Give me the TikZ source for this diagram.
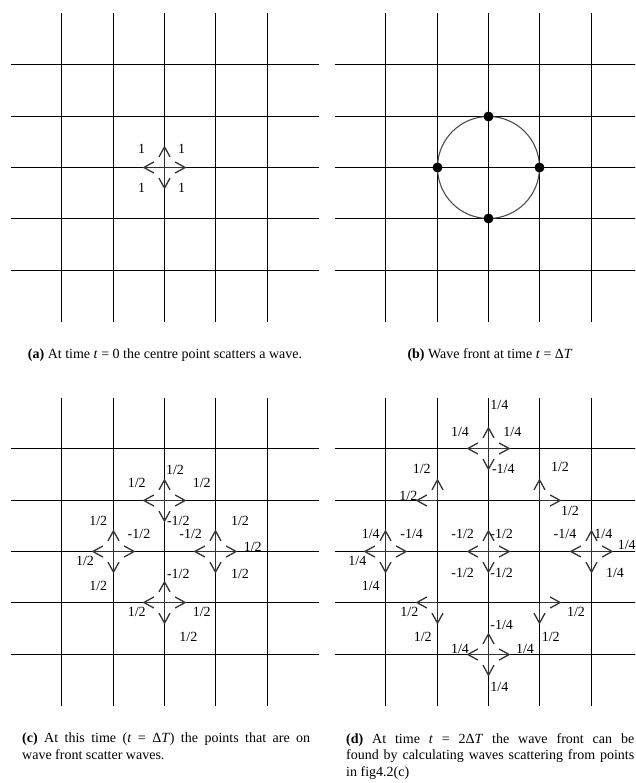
\documentclass[tikz,border=0pt]{standalone}
\usepackage{fontspec}
\setmainfont{Liberation Serif}
\usetikzlibrary{arrows.meta}

% lattice of 5x5 lines round the origin of the current scope
\newcommand\latgrid{%
  \foreach \k in {-103,-51,0,51,103} {
    \draw[gridln] (\k,-154) -- (\k,154);
    \draw[gridln] (-154,\k) -- (154,\k);
  }}
% four scattered pulses out of one lattice point
\newcommand\burst[1]{%
  \foreach \dx/\dy in {0/-22,0/22,-22/0,22/0}
    \draw[wave] (#1) -- ++(\dx,\dy);}

\begin{document}
\begin{tikzpicture}[
      x=1pt, y=-1pt,
      gridln/.style={draw=black, line width=1pt},
      wave/.style={draw=black!80, line width=1.3pt, -{Straight Barb[length=10pt,width=11pt]}},
      amp/.style={font=\fontsize{14}{16}\selectfont, inner sep=0pt},
      captxt/.style={font=\fontsize{14}{16.5}\selectfont, inner sep=0pt},
      front/.style={draw=black!70, line width=1.1pt},
      dot/.style={circle, fill=black, inner sep=0pt, minimum size=10pt}
    ]
    \clip (0,0) rectangle (635,783);

    % ---- lattice points ----
    \coordinate (a0) at (164.5,167.5);
    \coordinate (b0) at (488.5,167.5);
    \coordinate (c0) at (164.5,551.5);
    \coordinate (d0) at (488.5,551.5);

    % ---- four lattices ----
    \begin{scope}[shift={(a0)}] \latgrid \end{scope}
    \begin{scope}[shift={(b0)}] \latgrid \end{scope}
    \begin{scope}[shift={(c0)}] \latgrid \end{scope}
    \begin{scope}[shift={(d0)}] \latgrid \end{scope}

    % ---- (a) centre point scatters ----
    \burst{a0}
    \node[amp] (a1) at (141.7,149.3) {1};
    \node[amp] (a2) at (181.7,149.3) {1};
    \node[amp] (a3) at (141.7,188.3) {1};
    \node[amp] (a4) at (181.7,188.3) {1};

    % ---- (b) wave front ----
    \draw[front] (b0) circle (51);
    \node[dot] (bn) at (488.5,116.5) {};
    \node[dot] (bw) at (437.5,167.5) {};
    \node[dot] (be) at (539.5,167.5) {};
    \node[dot] (bs) at (488.5,218.5) {};

    % ---- (c) points on the front scatter ----
    \coordinate (cn) at (164.5,500.5);
    \coordinate (cw) at (113.5,551.5);
    \coordinate (ce) at (215.5,551.5);
    \coordinate (cs) at (164.5,602.5);
    \burst{cn} \burst{cw} \burst{ce} \burst{cs}
    \node[amp] (c1) at (175,470) {1/2};
    \node[amp] (c2) at (136.7,482.7) {1/2};
    \node[amp] (c3) at (201.7,482.7) {1/2};
    \node[amp] (c4) at (178.3,520.7) {-1/2};
    \node[amp] (c5) at (98.3,520.7) {1/2};
    \node[amp] (c6) at (139,534) {-1/2};
    \node[amp] (c7) at (85,560.7) {1/2};
    \node[amp] (c8) at (98.3,586) {1/2};
    \node[amp] (c9) at (240,520.7) {1/2};
    \node[amp] (c10) at (190.7,534) {-1/2};
    \node[amp] (c11) at (252.7,547.3) {1/2};
    \node[amp] (c12) at (240,574) {1/2};
    \node[amp] (c13) at (178.3,574) {-1/2};
    \node[amp] (c14) at (136.7,611.7) {1/2};
    \node[amp] (c15) at (201.7,611.7) {1/2};
    \node[amp] (c16) at (188.3,637.3) {1/2};

    % ---- (d) second front ----
    \coordinate (dn) at (488.5,448.5);
    \coordinate (dw) at (385.5,551.5);
    \coordinate (de) at (591.5,551.5);
    \coordinate (ds) at (488.5,654.5);
    \coordinate (dnw) at (437.5,500.5);
    \coordinate (dne) at (539.5,500.5);
    \coordinate (dsw) at (437.5,602.5);
    \coordinate (dse) at (539.5,602.5);
    \burst{dn} \burst{dw} \burst{de} \burst{ds} \burst{d0}
    \draw[wave] (dnw) -- ++(0,-22);
    \draw[wave] (dnw) -- ++(-22,0);
    \draw[wave] (dne) -- ++(0,-22);
    \draw[wave] (dne) -- ++(22,0);
    \draw[wave] (dsw) -- ++(0,22);
    \draw[wave] (dsw) -- ++(-22,0);
    \draw[wave] (dse) -- ++(0,22);
    \draw[wave] (dse) -- ++(22,0);
    % top
    \node[amp] (d1) at (499.3,405) {1/4};
    \node[amp] (d2) at (460,431.7) {1/4};
    \node[amp] (d3) at (512.3,431.7) {1/4};
    \node[amp] (d4) at (503.3,469.3) {-1/4};
    % diagonals, upper
    \node[amp] (d5) at (421.7,469.3) {1/2};
    \node[amp] (d6) at (408.3,496) {1/2};
    \node[amp] (d7) at (560,466.7) {1/2};
    \node[amp] (d8) at (570,510.7) {1/2};
    % left
    \node[amp] (d9) at (370.7,534) {1/4};
    \node[amp] (d10) at (411.7,534) {-1/4};
    \node[amp] (d11) at (357.3,560.7) {1/4};
    \node[amp] (d12) at (370.7,586) {1/4};
    % centre
    \node[amp] (d13) at (462.7,534) {-1/2};
    \node[amp] (d14) at (501.7,534) {-1/2};
    \node[amp] (d15) at (462.7,572.7) {-1/2};
    \node[amp] (d16) at (501.7,572.7) {-1/2};
    % right
    \node[amp] (d17) at (565,534) {-1/4};
    \node[amp] (d18) at (603.3,534) {1/4};
    \node[amp] (d19) at (626.7,545) {1/4};
    \node[amp] (d20) at (615,572.7) {1/4};
    % diagonals, lower
    \node[amp] (d21) at (409.3,611.7) {1/2};
    \node[amp] (d22) at (422.7,636.7) {1/2};
    \node[amp] (d23) at (576,611.7) {1/2};
    \node[amp] (d24) at (550.7,636.7) {1/2};
    % bottom
    \node[amp] (d25) at (501.7,625) {-1/4};
    \node[amp] (d26) at (460,649.3) {1/4};
    \node[amp] (d27) at (525,649.3) {1/4};
    \node[amp] (d28) at (499.3,687.3) {1/4};

    % ---- captions ----
    \node[captxt] (capa) at (165,355)
      {\textbf{(a)} At time \textit{t} = 0 the centre point scatters a wave.};
    \node[captxt] (capb) at (490,355)
      {\textbf{(b)} Wave front at time \textit{t} = Δ\textit{T}};
    \node[captxt, anchor=north west, text width=288pt, align=justify] (capc) at (22,733)
      {\textbf{(c)} At this time (\textit{t} = Δ\textit{T}) the points that are on\linebreak
       wave front scatter waves.};
    \node[captxt, anchor=north west, text width=288pt, align=justify] (capd) at (346,733)
      {\textbf{(d)} At time \textit{t} = 2Δ\textit{T} the wave front can be\linebreak
       found by calculating waves scattering from points\linebreak
       in fig4.2(c)};
  \end{tikzpicture}
\end{document}
